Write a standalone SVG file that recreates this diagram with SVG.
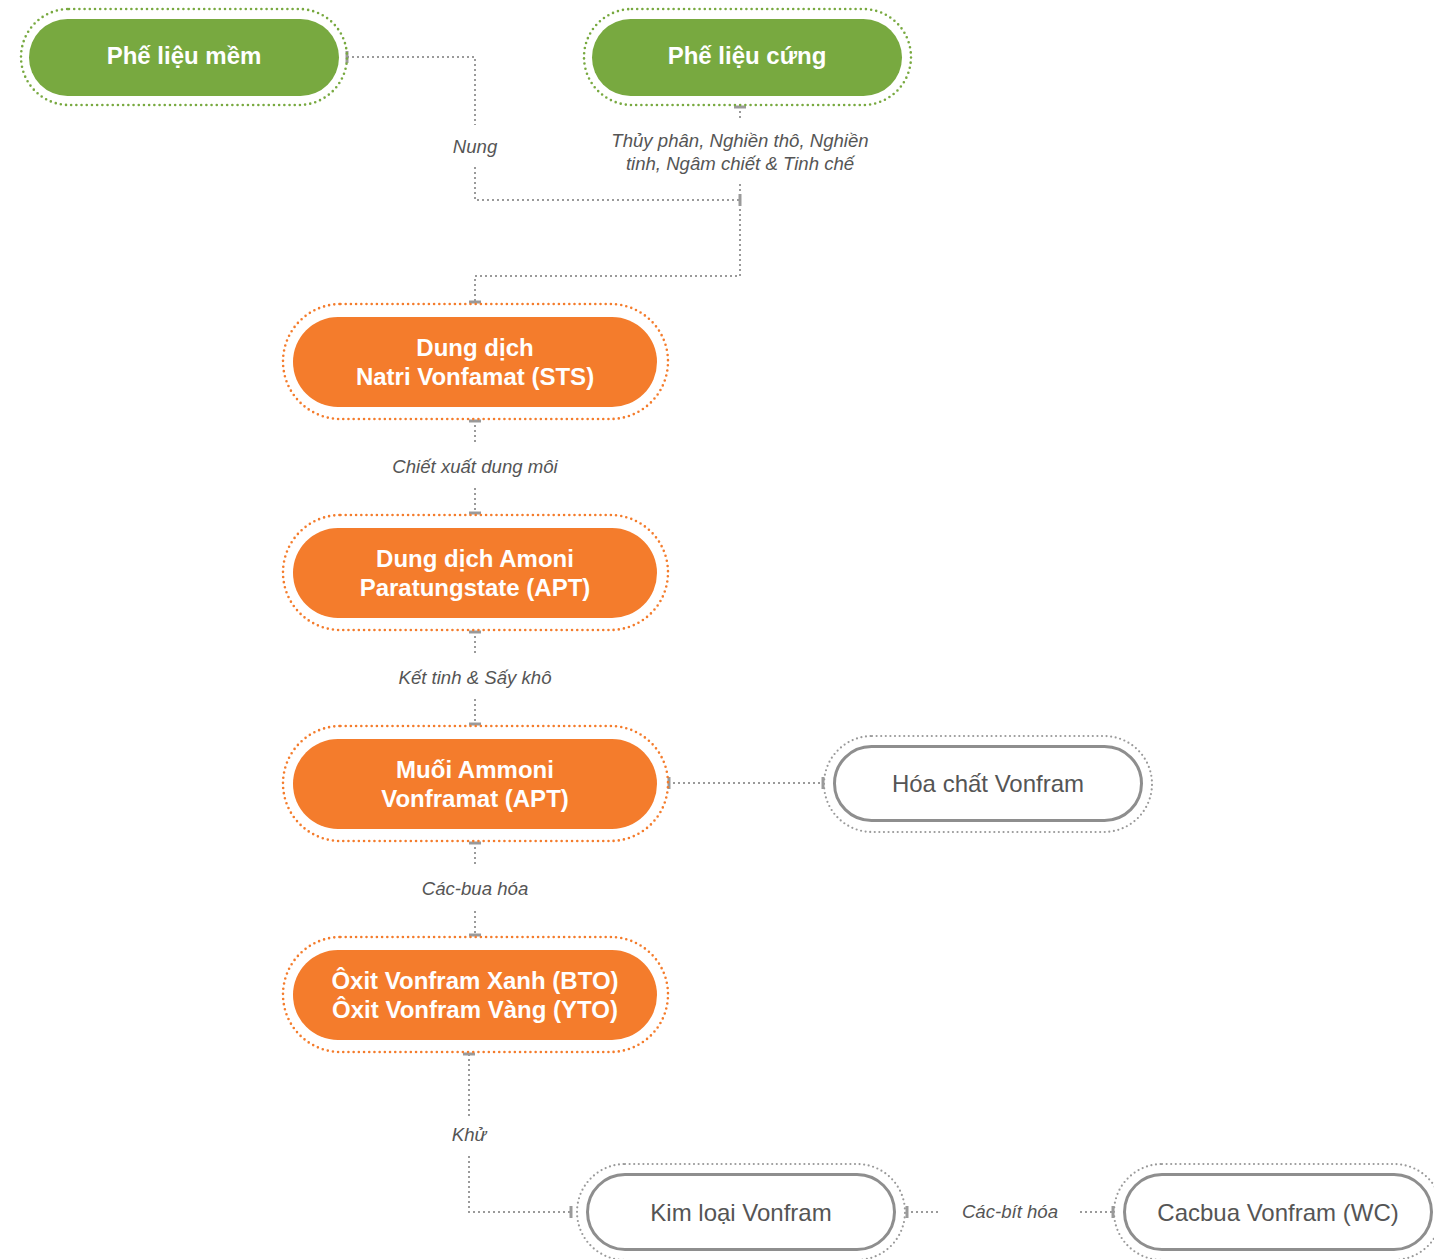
<svg xmlns="http://www.w3.org/2000/svg" width="1434" height="1259" viewBox="0 0 1434 1259">
<style>
.green{fill:#78a940}
.orange{fill:#f47c2c}
.ring-g{fill:none;stroke:#78a940;stroke-width:2.6;stroke-dasharray:0 5.2;stroke-linecap:round}
.ring-o{fill:none;stroke:#f47c2c;stroke-width:2.6;stroke-dasharray:0 5.2;stroke-linecap:round}
.ring-w{fill:none;stroke:#9a9a9a;stroke-width:2.2;stroke-dasharray:0 4.6;stroke-linecap:round}
.white{fill:#fff;stroke:#8e8e8e;stroke-width:3}
.t-b{font-family:"Liberation Sans",Arial,sans-serif;font-weight:bold;font-size:24px;fill:#fff;text-anchor:middle}
.t-g{font-family:"Liberation Sans",Arial,sans-serif;font-size:24px;fill:#555;text-anchor:middle}
.lbl{font-family:"Liberation Sans",Arial,sans-serif;font-style:italic;font-size:18.6px;fill:#555;text-anchor:middle}
.con{fill:none;stroke:#9a9a9a;stroke-width:2;stroke-dasharray:2 3}
.tick{stroke:#9a9a9a;stroke-width:3}
</style>
<g id="connectors">
<path class="con" d="M347 57 H475 V125"/>
<path class="con" d="M475 167 V200 H740"/>
<path class="con" d="M740 106 V118"/>
<path class="con" d="M740 184 V276 H475 V303"/>
<path class="con" d="M475 420 V445"/>
<path class="con" d="M475 488 V514"/>
<path class="con" d="M475 631 V655"/>
<path class="con" d="M475 699 V725"/>
<path class="con" d="M668 783 H824"/>
<path class="con" d="M475 842 V866"/>
<path class="con" d="M475 911 V936"/>
<path class="con" d="M469 1054 V1117"/>
<path class="con" d="M469 1156 V1212 H572"/>
<path class="con" d="M906 1212 H940"/>
<path class="con" d="M1080 1212 H1113"/>
<line class="tick" x1="347" y1="51" x2="347" y2="63"/>
<line class="tick" x1="734" y1="107" x2="746" y2="107"/>
<line class="tick" x1="740" y1="194" x2="740" y2="206"/>
<line class="tick" x1="469" y1="302" x2="481" y2="302"/>
<line class="tick" x1="469" y1="421" x2="481" y2="421"/>
<line class="tick" x1="469" y1="513" x2="481" y2="513"/>
<line class="tick" x1="469" y1="632" x2="481" y2="632"/>
<line class="tick" x1="469" y1="724" x2="481" y2="724"/>
<line class="tick" x1="669" y1="777" x2="669" y2="789"/>
<line class="tick" x1="823" y1="777" x2="823" y2="789"/>
<line class="tick" x1="469" y1="843" x2="481" y2="843"/>
<line class="tick" x1="469" y1="935" x2="481" y2="935"/>
<line class="tick" x1="463" y1="1054" x2="475" y2="1054"/>
<line class="tick" x1="571" y1="1206" x2="571" y2="1218"/>
<line class="tick" x1="907" y1="1206" x2="907" y2="1218"/>
<line class="tick" x1="1113" y1="1206" x2="1113" y2="1218"/>
<text class="lbl" x="475" y="153">Nung</text>
<text class="lbl" x="740" y="147">Thủy phân, Nghiền thô, Nghiền</text>
<text class="lbl" x="740" y="170">tinh, Ngâm chiết &amp; Tinh chế</text>
<text class="lbl" x="475" y="473">Chiết xuất dung môi</text>
<text class="lbl" x="475" y="684">Kết tinh &amp; Sấy khô</text>
<text class="lbl" x="475" y="895">Các-bua hóa</text>
<text class="lbl" x="469" y="1141">Khử</text>
<text class="lbl" x="1010" y="1218">Các-bít hóa</text>
</g>
<g id="phe-lieu-mem">
<rect class="ring-g" x="21" y="9" width="326" height="96" rx="48"/>
<rect class="green" x="29" y="19" width="310" height="77" rx="38.5"/>
<text class="t-b" x="184" y="64">Phế liệu mềm</text>
</g>
<g id="phe-lieu-cung">
<rect class="ring-g" x="584" y="9" width="327" height="96" rx="48"/>
<rect class="green" x="592" y="19" width="310" height="77" rx="38.5"/>
<text class="t-b" x="747" y="64">Phế liệu cứng</text>
</g>
<g id="sts">
<rect class="ring-o" x="283" y="304" width="385" height="115" rx="57.5"/>
<rect class="orange" x="293" y="317" width="364" height="90" rx="45"/>
<text class="t-b" x="475" y="356">Dung dịch</text>
<text class="t-b" x="475" y="385">Natri Vonfamat (STS)</text>
</g>
<g id="apt-solution">
<rect class="ring-o" x="283" y="515" width="385" height="115" rx="57.5"/>
<rect class="orange" x="293" y="528" width="364" height="90" rx="45"/>
<text class="t-b" x="475" y="567">Dung dịch Amoni</text>
<text class="t-b" x="475" y="596">Paratungstate (APT)</text>
</g>
<g id="apt-salt">
<rect class="ring-o" x="283" y="726" width="385" height="115" rx="57.5"/>
<rect class="orange" x="293" y="739" width="364" height="90" rx="45"/>
<text class="t-b" x="475" y="778">Muối Ammoni</text>
<text class="t-b" x="475" y="807">Vonframat (APT)</text>
</g>
<g id="oxide">
<rect class="ring-o" x="283" y="937" width="385" height="115" rx="57.5"/>
<rect class="orange" x="293" y="950" width="364" height="90" rx="45"/>
<text class="t-b" x="475" y="989">Ôxit Vonfram Xanh (BTO)</text>
<text class="t-b" x="475" y="1018">Ôxit Vonfram Vàng (YTO)</text>
</g>
<g id="hoa-chat">
<rect class="ring-w" x="824" y="736" width="328" height="96" rx="48"/>
<rect class="white" x="834.5" y="746.5" width="307" height="74" rx="37"/>
<text class="t-g" x="988" y="792">Hóa chất Vonfram</text>
</g>
<g id="kim-loai">
<rect class="ring-w" x="577" y="1164" width="328" height="96" rx="48"/>
<rect class="white" x="587.5" y="1174.5" width="307" height="75" rx="37.5"/>
<text class="t-g" x="741" y="1221">Kim loại Vonfram</text>
</g>
<g id="cacbua">
<rect class="ring-w" x="1114" y="1164" width="328" height="96" rx="48"/>
<rect class="white" x="1124.5" y="1174.5" width="307" height="75" rx="37.5"/>
<text class="t-g" x="1278" y="1221">Cacbua Vonfram (WC)</text>
</g>
</svg>
